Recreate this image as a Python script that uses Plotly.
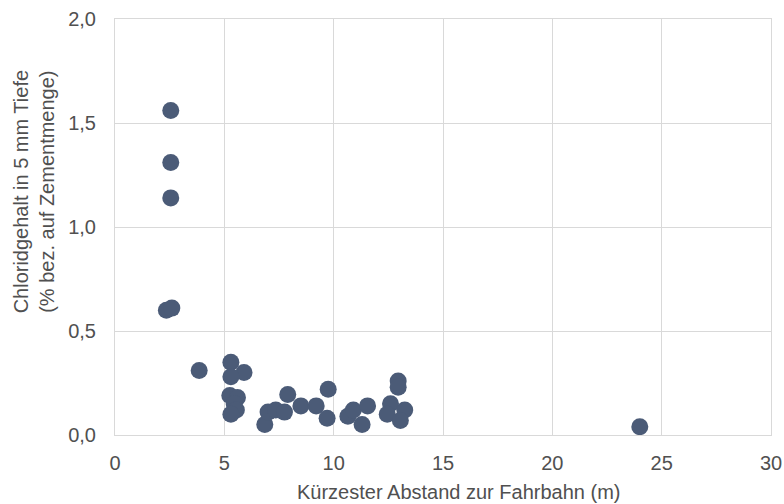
import plotly.graph_objects as go

# Shortest distance to the carriageway (m) and chloride content at 5 mm depth (% of cement mass)
abstand_m = [2.55, 2.55, 2.55, 2.35, 2.6, 3.85, 5.3, 5.9, 5.3, 5.25, 5.6, 5.45, 5.55, 5.3,
             6.85, 7.0, 7.35, 7.75, 7.9, 8.5, 9.2, 9.75, 9.7, 10.65, 10.9, 11.3, 11.55,
             12.95, 12.95, 12.6, 12.45, 13.25, 13.05, 24.0]
chlorid = [1.56, 1.31, 1.14, 0.60, 0.61, 0.31, 0.35, 0.30, 0.28, 0.19, 0.18, 0.15, 0.12, 0.10,
           0.05, 0.11, 0.12, 0.11, 0.195, 0.14, 0.14, 0.22, 0.08, 0.09, 0.12, 0.05, 0.14,
           0.26, 0.23, 0.15, 0.10, 0.12, 0.07, 0.04]

x_ticks = [0, 5, 10, 15, 20, 25, 30]
y_ticks = [0.0, 0.5, 1.0, 1.5, 2.0]

x_title = "Kürzester Abstand zur Fahrbahn (m)"
y_title = "Chloridgehalt in 5 mm Tiefe<br>(% bez. auf Zementmenge)"

FONT = "Liberation Sans, Arial, sans-serif"
TEXT = "#505050"
GRID = "#d9d9d9"
FS = 20

fig = go.Figure(
    go.Scatter(
        x=abstand_m,
        y=chlorid,
        mode="markers",
        marker=dict(size=17, color="#4b5b77", line=dict(width=0)),
        hoverinfo="x+y",
    )
)

fig.update_layout(
    width=784,
    height=504,
    margin=dict(l=115, r=13, t=19, b=69),
    paper_bgcolor="white",
    plot_bgcolor="white",
    separators=", ",
    showlegend=False,
    font=dict(family=FONT, size=FS, color=TEXT),
    annotations=[
        dict(
            text=x_title, xref="paper", yref="paper",
            x=0.523, y=-0.138, xanchor="center", yanchor="middle",
            showarrow=False, font=dict(size=FS, color=TEXT),
        ),
        dict(
            text=y_title, xref="paper", yref="paper",
            x=-0.123, y=0.584, xanchor="center", yanchor="middle",
            textangle=-90, showarrow=False, font=dict(size=FS, color=TEXT),
        ),
    ],
)

fig.update_xaxes(
    range=[0, 30],
    tickvals=x_ticks,
    ticktext=[str(v) for v in x_ticks],
    showgrid=True,
    gridcolor=GRID,
    gridwidth=1,
    zeroline=False,
    showline=True,
    linecolor=GRID,
    linewidth=1,
    mirror=True,
    ticks="",
    ticklabelstandoff=10,
    automargin=False,
    tickfont=dict(size=FS, color=TEXT),
)

fig.update_yaxes(
    range=[0, 2.0],
    tickvals=y_ticks,
    tickformat=".1f",
    showgrid=True,
    gridcolor=GRID,
    gridwidth=1,
    zeroline=False,
    showline=True,
    linecolor=GRID,
    linewidth=1,
    mirror=True,
    ticks="",
    ticklabelstandoff=14,
    automargin=False,
    tickfont=dict(size=FS, color=TEXT),
)

fig.write_html("out.html")
